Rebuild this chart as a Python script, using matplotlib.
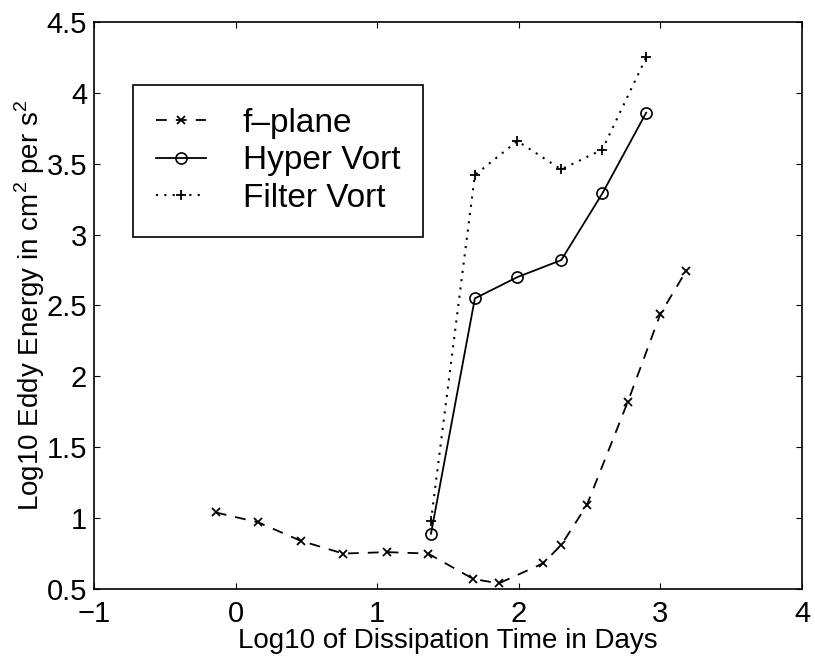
import matplotlib
matplotlib.use("Agg")
import matplotlib.pyplot as plt

plt.rcParams['font.family'] = ['Liberation Sans', 'DejaVu Sans']
plt.rcParams['mathtext.fontset'] = 'custom'
plt.rcParams['mathtext.rm'] = 'Liberation Sans'

# data
fplane_x = [-0.14, 0.16, 0.46, 0.76, 1.07, 1.36, 1.68, 1.86, 2.17, 2.30, 2.48, 2.77, 3.00, 3.18]
fplane_y = [1.04, 0.97, 0.84, 0.75, 0.76, 0.75, 0.57, 0.54, 0.68, 0.81, 1.09, 1.82, 2.44, 2.74]

hyper_x = [1.38, 1.69, 1.99, 2.30, 2.59, 2.90]
hyper_y = [0.89, 2.55, 2.70, 2.82, 3.29, 3.86]

filter_x = [1.38, 1.69, 1.99, 2.30, 2.59, 2.90]
filter_y = [0.98, 3.42, 3.66, 3.46, 3.60, 4.25]

xticks = [-1, 0, 1, 2, 3, 4]
yticks = [0.5, 1, 1.5, 2, 2.5, 3, 3.5, 4, 4.5]
ytick_labels = ['0.5', '1', '1.5', '2', '2.5', '3', '3.5', '4', '4.5']

fig = plt.figure(figsize=(8.15, 6.6), dpi=100)
ax = fig.add_axes([0.1153, 0.1076, 0.8687, 0.8591])

ax.plot(fplane_x, fplane_y, color='k', linestyle=(0, (6, 5)), linewidth=1.3,
        marker='x', markersize=6, markeredgewidth=1.3, label='f\u2013plane')
ax.plot(hyper_x, hyper_y, color='k', linestyle='-', linewidth=1.3,
        marker='o', markersize=8, markerfacecolor='none', markeredgewidth=1.2,
        label='Hyper Vort')
ax.plot(filter_x, filter_y, color='k', linestyle=(0, (1, 3)), linewidth=1.5,
        marker='+', markersize=7.5, markeredgewidth=1.3, label='Filter Vort')

ax.set_xlim(-1, 4)
ax.set_ylim(0.5, 4.5)
ax.set_xticks(xticks)
ax.set_yticks(yticks)
ax.set_yticklabels(ytick_labels)
ax.tick_params(direction='in', top=True, right=True, length=4, labelsize=21)
ax.tick_params(axis='x', pad=8)
ax.tick_params(axis='y', pad=5)
for s in ax.spines.values():
    s.set_linewidth(1.2)

ax.set_xlabel('Log10 of Dissipation Time in Days', fontsize=20, labelpad=0)
ax.set_ylabel('Log10 Eddy Energy in cm$^2$ per s$^2$', fontsize=20, labelpad=0)

leg = ax.legend(loc='upper left', bbox_to_anchor=(0.055, 0.889), borderaxespad=0,
                fontsize=24, fancybox=False, edgecolor='k', framealpha=1,
                handlelength=1.5, handletextpad=1.12, labelspacing=0.2,
                borderpad=0.68, numpoints=1)
leg.get_frame().set_linewidth(1.2)

fig.savefig('out.png', dpi=100)
